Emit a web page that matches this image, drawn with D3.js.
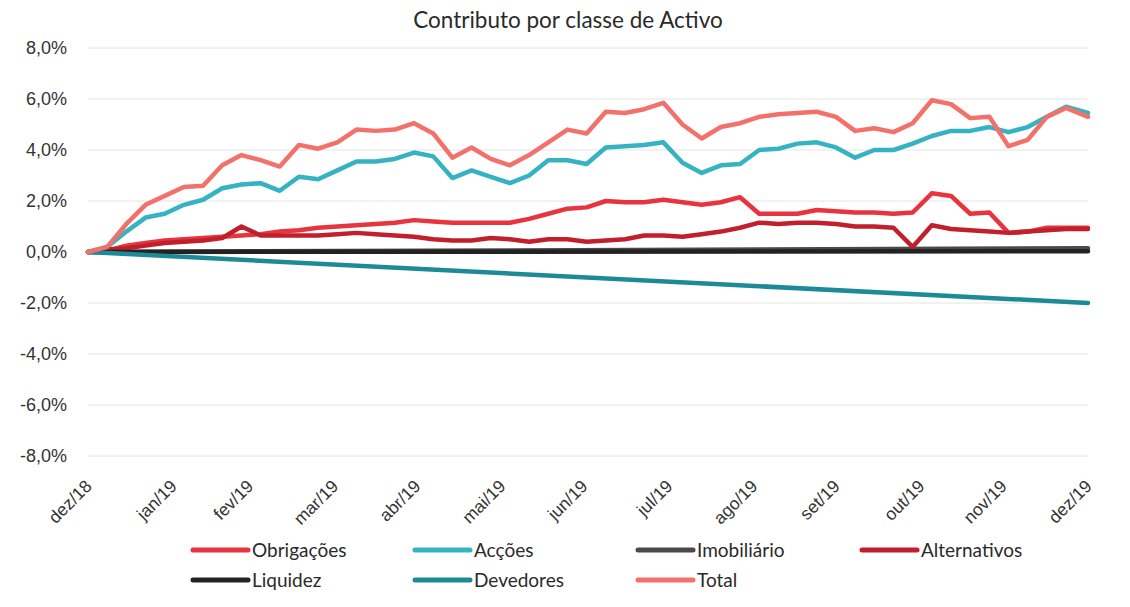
<!DOCTYPE html>
<html>
<head>
<meta charset="utf-8">
<script src="https://cdn.jsdelivr.net/npm/d3@7"></script>
<style>
  body { margin: 0; background: #fff; }
  svg { font-family: Lato, "Open Sans", sans-serif; }
  .grid line { stroke: #e4e4e4; stroke-width: 1; }
  .axis text { fill: #333; }
</style>
</head>
<body>
<div id="chart-area"></div>
<script>
// weekly observation dates
const dates = [
  '2018-12-31','2019-01-07','2019-01-14','2019-01-21','2019-01-28',
  '2019-02-04','2019-02-11','2019-02-18','2019-02-25',
  '2019-03-04','2019-03-11','2019-03-18','2019-03-25',
  '2019-04-01','2019-04-08','2019-04-15','2019-04-22','2019-04-29',
  '2019-05-06','2019-05-13','2019-05-20','2019-05-27',
  '2019-06-03','2019-06-10','2019-06-17','2019-06-24',
  '2019-07-01','2019-07-08','2019-07-15','2019-07-22','2019-07-29',
  '2019-08-05','2019-08-12','2019-08-19','2019-08-26',
  '2019-09-02','2019-09-09','2019-09-16','2019-09-23','2019-09-30',
  '2019-10-07','2019-10-14','2019-10-21','2019-10-28',
  '2019-11-04','2019-11-11','2019-11-18','2019-11-25',
  '2019-12-02','2019-12-09','2019-12-16','2019-12-23','2019-12-31'
];
const endDates = ['2018-12-31', '2019-12-31'];

// contributions in %
const obrigacoes = [0, 0.05, 0.25, 0.35, 0.45, 0.5, 0.55, 0.6, 0.65, 0.7, 0.8, 0.85, 0.95,
  1.0, 1.05, 1.1, 1.15, 1.25, 1.2, 1.15, 1.15, 1.15, 1.15, 1.3, 1.5, 1.7, 1.75,
  2.0, 1.95, 1.95, 2.05, 1.95, 1.85, 1.95, 2.15, 1.5, 1.5, 1.5, 1.65, 1.6,
  1.55, 1.55, 1.5, 1.55, 2.3, 2.2, 1.5, 1.55, 0.75, 0.8, 0.95, 0.95, 0.95];
const accoes = [0, 0.2, 0.8, 1.35, 1.5, 1.85, 2.05, 2.5, 2.65, 2.7, 2.4, 2.95, 2.85,
  3.2, 3.55, 3.55, 3.65, 3.9, 3.75, 2.9, 3.2, 2.95, 2.7, 3.0, 3.6, 3.6, 3.45,
  4.1, 4.15, 4.2, 4.3, 3.5, 3.1, 3.4, 3.45, 4.0, 4.05, 4.25, 4.3, 4.1,
  3.7, 4.0, 4.0, 4.25, 4.55, 4.75, 4.75, 4.9, 4.7, 4.9, 5.3, 5.7, 5.45];
const alternativos = [0, 0.1, 0.15, 0.25, 0.35, 0.4, 0.45, 0.55, 1.0, 0.65, 0.65, 0.65, 0.65,
  0.7, 0.75, 0.7, 0.65, 0.6, 0.5, 0.45, 0.45, 0.55, 0.5, 0.4, 0.5, 0.5, 0.4,
  0.45, 0.5, 0.65, 0.65, 0.6, 0.7, 0.8, 0.95, 1.15, 1.1, 1.15, 1.15, 1.1,
  1.0, 1.0, 0.95, 0.2, 1.05, 0.9, 0.85, 0.8, 0.75, 0.8, 0.85, 0.9, 0.9];
const total = [0, 0.2, 1.1, 1.85, 2.2, 2.55, 2.6, 3.4, 3.8, 3.6, 3.35, 4.2, 4.05,
  4.3, 4.8, 4.75, 4.8, 5.05, 4.65, 3.7, 4.1, 3.65, 3.4, 3.8, 4.3, 4.8, 4.65,
  5.5, 5.45, 5.6, 5.85, 5.0, 4.45, 4.9, 5.05, 5.3, 5.4, 5.45, 5.5, 5.3,
  4.75, 4.85, 4.7, 5.05, 5.95, 5.8, 5.25, 5.3, 4.15, 4.4, 5.3, 5.65, 5.3];
const imobiliario = [0, 0.15];
const liquidez = [0, 0.03];
const devedores = [0, -2.0];

const yTicks = [-8, -6, -4, -2, 0, 2, 4, 6, 8];
const xTickDates = ['2018-12-31','2019-01-31','2019-02-28','2019-03-31','2019-04-30',
  '2019-05-31','2019-06-30','2019-07-31','2019-08-31','2019-09-30','2019-10-31',
  '2019-11-30','2019-12-31'];
const xTickLabels = ['dez/18','jan/19','fev/19','mar/19','abr/19','mai/19','jun/19',
  'jul/19','ago/19','set/19','out/19','nov/19','dez/19'];

const series = [
  { name: 'Obrigações', color: '#e8343e', dates: dates, values: obrigacoes },
  { name: 'Acções', color: '#35b3c3', dates: dates, values: accoes },
  { name: 'Imobiliário', color: '#4a4a4a', dates: endDates, values: imobiliario },
  { name: 'Alternativos', color: '#c21f2c', dates: dates, values: alternativos },
  { name: 'Liquidez', color: '#222222', dates: endDates, values: liquidez },
  { name: 'Devedores', color: '#1c8b97', dates: endDates, values: devedores },
  { name: 'Total', color: '#f2716b', dates: dates, values: total }
];

const drawChart = () => {
  const chartSize = { width: 1130, height: 607 };
  const margin = { left: 88, right: 42, top: 48, bottom: 151 };
  const width = chartSize.width - margin.left - margin.right;
  const height = chartSize.height - margin.top - margin.bottom;
  const parse = d3.timeParse('%Y-%m-%d');

  const svg = d3.select('#chart-area').append('svg')
    .attr('width', chartSize.width)
    .attr('height', chartSize.height);

  svg.append('text')
    .attr('x', 568)
    .attr('y', 28)
    .attr('text-anchor', 'middle')
    .attr('font-size', 22.5)
    .attr('fill', '#2a2a2a')
    .text('Contributo por classe de Activo');

  const x = d3.scaleTime()
    .domain([parse(dates[0]), parse(dates[dates.length - 1])])
    .range([0, width]);
  const y = d3.scaleLinear().domain([-8, 8]).range([height, 0]);

  const pt = d3.formatLocale({ decimal: ',', thousands: '.', grouping: [3], currency: ['€', ''], minus: '-' });
  const fmt = pt.format('.1f');

  const g = svg.append('g')
    .attr('transform', `translate(${margin.left},${margin.top})`);

  g.append('g')
    .attr('class', 'grid')
    .selectAll('line')
    .data(yTicks)
    .enter()
    .append('line')
    .attr('x1', 0)
    .attr('x2', width)
    .attr('y1', d => y(d))
    .attr('y2', d => y(d));

  const yAxis = d3.axisLeft(y)
    .tickValues(yTicks)
    .tickSize(0)
    .tickPadding(21)
    .tickFormat(d => fmt(d) + '%');
  g.append('g')
    .attr('class', 'y axis')
    .attr('font-size', 18)
    .call(yAxis)
    .call(a => a.select('.domain').remove())
    .selectAll('text')
    .attr('font-size', 18);

  const xAxis = d3.axisBottom(x)
    .tickValues(xTickDates.map(parse))
    .tickSize(0)
    .tickFormat((d, i) => xTickLabels[i]);
  g.append('g')
    .attr('class', 'x axis')
    .attr('transform', `translate(0,${height})`)
    .call(xAxis)
    .call(a => a.select('.domain').remove())
    .selectAll('text')
    .attr('font-size', 17.5)
    .attr('text-anchor', 'end')
    .attr('dy', '0.35em')
    .attr('y', 0)
    .attr('transform', 'translate(0,27) rotate(-45)');

  const line = d3.line()
    .x(d => x(d.date))
    .y(d => y(d.value));

  g.selectAll('.series')
    .data(series)
    .enter()
    .append('path')
    .attr('class', 'series')
    .attr('fill', 'none')
    .attr('stroke', s => s.color)
    .attr('stroke-width', 4.5)
    .attr('stroke-linejoin', 'round')
    .attr('stroke-linecap', 'round')
    .attr('d', s => line(s.values.map((v, i) => ({ date: parse(s.dates[i]), value: v }))));

  // legend, 4 per row
  const legendCols = [193, 415, 638, 862];
  const legendRows = [550, 580];
  const legend = svg.selectAll('.legend')
    .data(series)
    .enter()
    .append('g')
    .attr('class', 'legend')
    .attr('transform', (s, i) => `translate(${legendCols[i % 4]},${legendRows[Math.floor(i / 4)]})`);
  legend.append('line')
    .attr('x1', 0)
    .attr('x2', 55)
    .attr('stroke', s => s.color)
    .attr('stroke-width', 5)
    .attr('stroke-linecap', 'round');
  legend.append('text')
    .attr('x', 59)
    .attr('dy', '0.35em')
    .attr('font-size', 19)
    .attr('fill', '#2a2a2a')
    .text(s => s.name);
};

window.onload = drawChart;
</script>
</body>
</html>
